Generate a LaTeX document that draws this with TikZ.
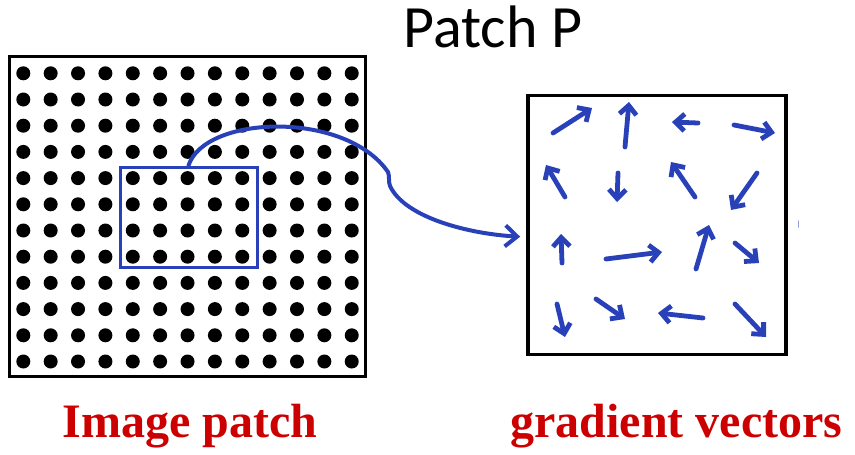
\documentclass[tikz,border=0pt]{standalone}
\usepackage{fontspec}
\usetikzlibrary{arrows.meta, positioning}
\newfontfamily\lblfont{Liberation Serif}
\newfontfamily\ttlfont{Carlito}
\definecolor{cB}{RGB}{40,64,184}
\definecolor{cR}{RGB}{204,0,0}

\begin{document}
\begin{tikzpicture}[x=1pt, y=-1pt, line cap=round,
                    frame/.style={draw=black, line width=3.6pt, inner sep=0pt},
                    patchbox/.style={draw=cB, line width=3pt, inner sep=0pt, minimum width=137pt, minimum height=100pt},
                    grad/.style={draw=cB, line width=4.8pt, -{Straight Barb[length=9pt, width=17pt]}},
                    lbl/.style={text=cR, font=\lblfont\bfseries\fontsize{48}{48}\selectfont, inner sep=0pt, anchor=base}]
    \useasboundingbox (0,0) rectangle (855,455);

    % Node Placements
    \node[frame, minimum width=356pt, minimum height=320pt] (image) at (187.5,216.5) {};
    \node[frame, minimum width=258pt, minimum height=259pt] (vecbox) at (657,225) {};
    \node[anchor=base, inner sep=0pt, font=\ttlfont\fontsize{60}{60}\selectfont] (title) at (493,47) {Patch P};
    \node[lbl] (imglbl) at (190,437) {Image patch};
    \node[lbl] (veclbl) at (676.5,437) {gradient vectors};

    % pixel grid
    \foreach \i in {0,...,12}
        \foreach \j in {0,...,11}
            \fill ({23.3+27.37*\i},{73.3+26.2*\j}) circle (7pt);

    \node[patchbox] (patch) at (188.5,217) {};

    % Gradient arrows
    \foreach \xa/\ya/\xb/\yb in {553/133/592/108, 625/147/629/102, 698/123/672/122, 734/125/775/133,
                                 565/197/546/165, 618/173/617/202, 695/197/671/162, 757/173/731/210,
                                 562/263/561/234, 606/259/662/252, 696/269/709/225, 735/243/759/263,
                                 557/304/565/337, 596/299/625/319, 703/318/658/313, 735/304/766/337}
        \draw[grad] (\xa,\ya) -- (\xb,\yb);
    \draw[cB!50, line width=1.5pt] (798.5,221) -- (798.5,227);

    % Patch to vectors
    \coordinate (kink) at (388,172);
    \draw[cB, line width=4pt, -{Straight Barb[length=12pt, width=21pt]}, shorten >=6pt]
        (patch.north) .. controls (205,115) and (345,110) .. (kink)
                      .. controls (390,177) and (388,181) .. (390,186)
                      .. controls (405,218) and (470,234) .. ([yshift=-12pt]vecbox.west);
\end{tikzpicture}
\end{document}
